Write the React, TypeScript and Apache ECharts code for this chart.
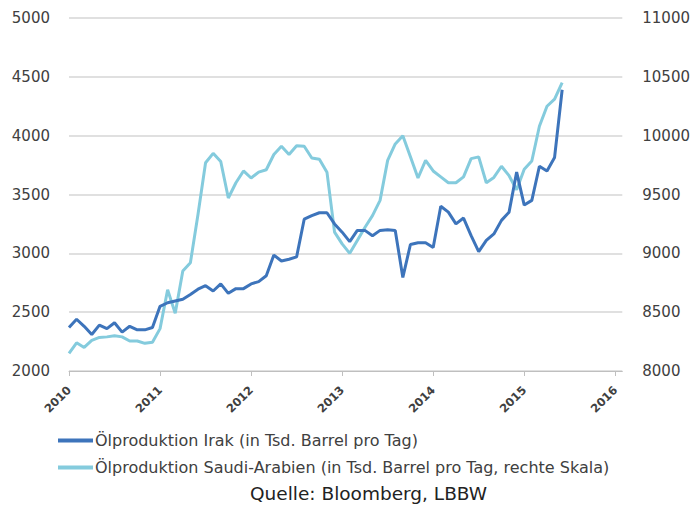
import React, { useEffect, useRef } from "react";
import * as echarts from "echarts";

const yearTicks = [2010, 2011, 2012, 2013, 2014, 2015, 2016];
const startYear = 2010;

// Monthly values, Jan 2010 – Jun 2015
const irak = [
  2370, 2440, 2380, 2310, 2390, 2360, 2410, 2330, 2380, 2350, 2350, 2370,
  2550, 2580, 2595, 2610, 2650, 2695, 2725, 2680, 2740, 2660, 2700, 2700,
  2740, 2760, 2810, 2985, 2935, 2950, 2970, 3290, 3320, 3345, 3345, 3250,
  3180, 3100, 3195, 3195, 3150, 3195, 3200, 3195, 2795, 3075, 3090, 3090,
  3050, 3400, 3350, 3250, 3300, 3150, 3015, 3110, 3165, 3280, 3350, 3690,
  3410, 3450, 3740, 3700, 3815, 4390,
];
const saudi = [
  8150, 8240, 8200, 8260, 8285, 8290, 8300, 8290, 8255, 8255, 8235, 8245,
  8360, 8690, 8490, 8850, 8920, 9330, 9770, 9850, 9780, 9470, 9600, 9700,
  9640, 9690, 9710, 9840, 9910, 9840, 9915, 9910, 9810, 9800, 9690, 9180,
  9080, 9000, 9110, 9220, 9320, 9450, 9790, 9930, 10000, 9820, 9640, 9790,
  9700, 9650, 9600, 9600, 9650, 9805, 9820, 9600, 9645, 9740, 9660, 9540,
  9715, 9785, 10080, 10250, 10310, 10450,
];

const seriesNames = [
  "Ölproduktion Irak (in Tsd. Barrel pro Tag)",
  "Ölproduktion Saudi-Arabien (in Tsd. Barrel pro Tag, rechte Skala)",
];
const sourceText = "Quelle: Bloomberg, LBBW";

const toPairs = (vals: number[]) => vals.map((v, i) => [startYear + i / 12, v]);

export default function App() {
  const ref = useRef<HTMLDivElement>(null);
  useEffect(() => {
    if (!ref.current) return;
    const chart = echarts.init(ref.current, null, { renderer: "svg" });
    const labelFont = "DejaVu Sans";
    chart.setOption({
      animation: false,
      backgroundColor: "#ffffff",
      grid: { left: 69, right: 69, top: 18, bottom: 139, containLabel: false },
      xAxis: {
        type: "value",
        min: 2010,
        max: 2016.077,
        axisLine: { show: true, lineStyle: { color: "#bfbfbf", width: 1 } },
        axisTick: { show: true, customValues: yearTicks, length: 5, lineStyle: { color: "#bfbfbf" } },
        axisLabel: {
          customValues: yearTicks,
          rotate: 45,
          margin: 17,
          fontFamily: labelFont,
          fontWeight: "bold",
          fontSize: 11.5,
          color: "#404040",
          formatter: (v: number) => String(Math.round(v)),
        },
        splitLine: { show: false },
      },
      yAxis: [
        {
          type: "value",
          min: 2000,
          max: 5000,
          interval: 500,
          axisLine: { show: false },
          axisTick: { show: false },
          axisLabel: {
            margin: 19,
            fontFamily: labelFont,
            fontSize: 15,
            color: "#404040",
            formatter: (v: number) => String(v),
          },
          splitLine: { show: true, lineStyle: { color: "#d6d6d6", width: 1.5 } },
        },
        {
          type: "value",
          min: 8000,
          max: 11000,
          interval: 500,
          position: "right",
          axisLine: { show: false },
          axisTick: { show: false },
          axisLabel: {
            margin: 20,
            fontFamily: labelFont,
            fontSize: 15,
            color: "#404040",
            formatter: (v: number) => String(v),
          },
          splitLine: { show: false },
        },
      ],
      legend: {
        orient: "vertical",
        left: 53,
        top: 426,
        icon: "rect",
        itemWidth: 35,
        itemHeight: 4,
        itemGap: 8,
        textStyle: {
          fontFamily: labelFont,
          fontSize: 16,
          lineHeight: 19,
          color: "#404040",
          padding: [0, 0, 0, -3],
        },
        data: seriesNames,
      },
      graphic: [
        {
          type: "text",
          left: 250,
          top: 484,
          style: { text: sourceText, fontFamily: labelFont, fontSize: 18.5, fill: "#222222" },
        },
      ],
      series: [
        {
          name: seriesNames[0],
          type: "line",
          yAxisIndex: 0,
          data: toPairs(irak),
          showSymbol: false,
          symbol: "none",
          lineStyle: { color: "#3d74bb", width: 3 },
          itemStyle: { color: "#3d74bb" },
          z: 3,
        },
        {
          name: seriesNames[1],
          type: "line",
          yAxisIndex: 1,
          data: toPairs(saudi),
          showSymbol: false,
          symbol: "none",
          lineStyle: { color: "#84cbdd", width: 3 },
          itemStyle: { color: "#84cbdd" },
          z: 2,
        },
      ],
    });
    return () => chart.dispose();
  }, []);
  return <div ref={ref} style={{ width: 693, height: 510, position: "absolute", left: 0, top: 0 }} />;
}
